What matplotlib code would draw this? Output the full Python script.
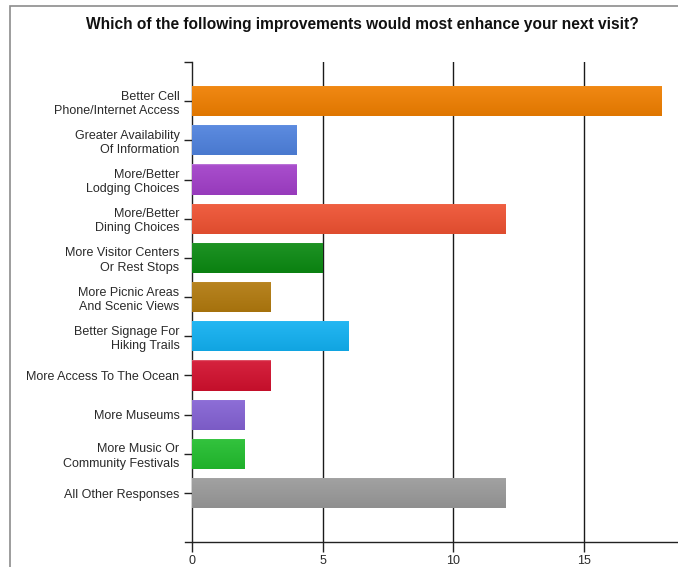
import numpy as np
import matplotlib
matplotlib.use("Agg")
import matplotlib.pyplot as plt
from matplotlib.colors import to_rgb
from matplotlib.patches import Rectangle

categories = [
    "Better Cell\nPhone/Internet Access",
    "Greater Availability\nOf Information",
    "More/Better\nLodging Choices",
    "More/Better\nDining Choices",
    "More Visitor Centers\nOr Rest Stops",
    "More Picnic Areas\nAnd Scenic Views",
    "Better Signage For\nHiking Trails",
    "More Access To The Ocean",
    "More Museums",
    "More Music Or\nCommunity Festivals",
    "All Other Responses",
]
counts = [18, 4, 4, 12, 5, 3, 6, 3, 2, 2, 12]
bar_colors = [
    "#F07F00", "#4F82DE", "#A23FC9", "#EF5232", "#0B8A12", "#B27A0E",
    "#12B1F2", "#D2102E", "#8462D4", "#22BE2E", "#9A9A9A",
]
x_ticks = [0, 5, 10, 15]
title = "Which of the following improvements would most enhance your next visit?"

plt.rcParams["font.family"] = ["Liberation Sans", "DejaVu Sans"]

fig = plt.figure(figsize=(6.78, 5.67), dpi=100)
ax = fig.add_axes([192 / 678, 1 - 542 / 567, 1 - 192 / 678, (542 - 62) / 567])

# outer frame of the chart panel
fig.patches.append(Rectangle((9.5 / 678, -0.1), 1.2, 1 - 5.5 / 567 + 0.1,
                             transform=fig.transFigure, fill=False,
                             edgecolor="#8c8c8c", linewidth=1.2))

pos = np.arange(len(categories))
bars = ax.barh(pos, counts, height=0.77, color=bar_colors, zorder=2)

# subtle vertical shading on every bar: a touch lighter at the top
n = 64
t = np.linspace(0, 1, n)[:, None]
for bar, c in zip(bars, bar_colors):
    base = np.array(to_rgb(c))
    light = base + (1 - base) * 0.08
    dark = base * 0.93
    shade = light[None, :] * (1 - t) + dark[None, :] * t
    shade[:2] = base + (1 - base) * 0.30
    img = np.concatenate([shade, np.ones((n, 1))], axis=1)[:, None, :]
    x0, y0 = bar.get_x(), bar.get_y()
    w, h = bar.get_width(), bar.get_height()
    im = ax.imshow(img, extent=(x0, x0 + w, y0 + h, y0), origin="upper",
                   aspect="auto", zorder=3, interpolation="bilinear")
    im.set_clip_path(bar)

ax.set_ylim(len(categories) + 0.25, -1.0)
ax.set_xlim(0, 18.62)
ax.set_yticks(pos)
ax.set_yticklabels(categories, fontsize=9, color="#2a2a2a", linespacing=1.25)
ax.set_yticks([-1.0], minor=True)
ax.set_xticks(x_ticks)
ax.set_xticklabels([str(v) for v in x_ticks], fontsize=9, color="#2a2a2a")

ax.tick_params(axis="y", which="both", length=6, width=1, color="#222222", pad=3)
ax.tick_params(axis="x", length=7, width=1, color="#222222", pad=2)

for v in x_ticks[1:]:
    ax.axvline(v, color="#1a1a1a", linewidth=1, zorder=1)

for side in ("top", "right"):
    ax.spines[side].set_visible(False)
ax.spines["left"].set_color("#222222")
ax.spines["bottom"].set_color("#222222")
ax.spines["bottom"].set_bounds(-0.25, 18.62)
ax.spines["left"].set_linewidth(1)
ax.spines["bottom"].set_linewidth(1)
ax.spines["bottom"].set_clip_on(False)

fig.text(362 / 678, 1 - 25 / 567, title, ha="center", va="center",
         fontsize=11.2, fontweight="bold", color="#111111")

fig.savefig("out.png", dpi=100)
